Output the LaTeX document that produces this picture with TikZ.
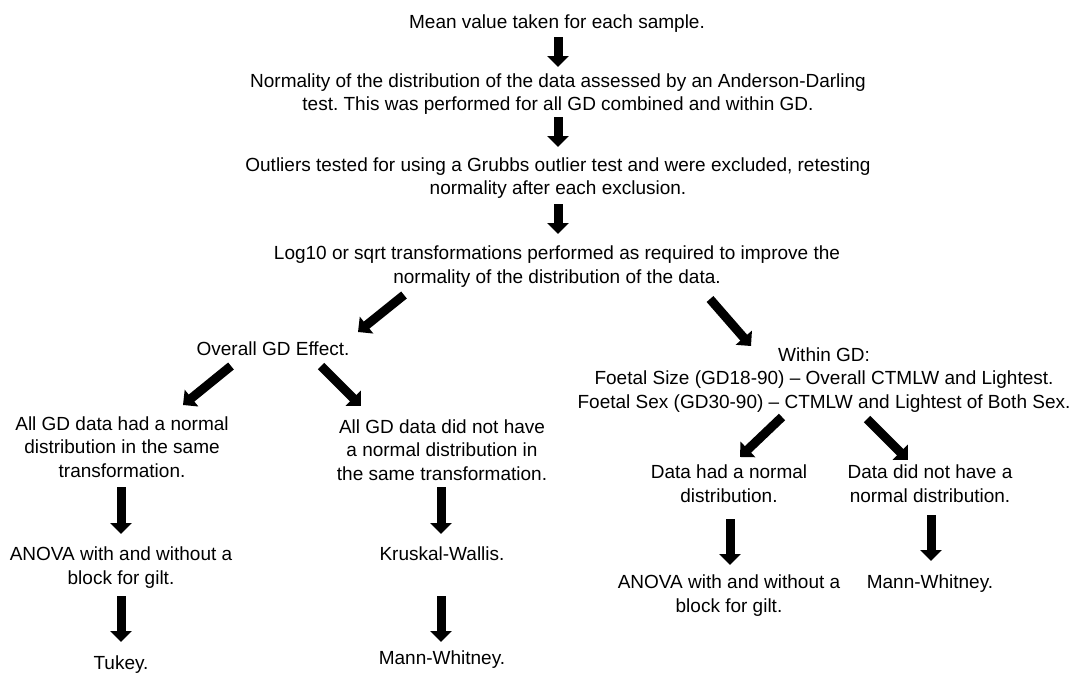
\documentclass[tikz,border=0pt]{standalone}
\usepackage{fontspec}
\setmainfont{Liberation Sans}
\usetikzlibrary{arrows.meta}
\frenchspacing
\begin{document}
\begin{tikzpicture}[x=1pt,y=-1pt,
  txt/.style={inner sep=0pt,align=center,font=\fontsize{19}{23.5}\selectfont},
  fat/.style={line width=9pt,-{Triangle[width=21pt,length=11pt]}}]
\useasboundingbox[fill=white] (0,0) rectangle (1081,672);
% text nodes
\node[txt] (mean) at (557,24) {Mean value taken for each sample.};
\node[txt] (norm) at (558,94) {Normality of the distribution of the data assessed by an Anderson-Darling\\test. This was performed for all GD combined and within GD.};
\node[txt] (outl) at (558,178) {Outliers tested for using a Grubbs outlier test and were excluded, retesting\\normality after each exclusion.};
\node[txt] (logt) at (557,266.5) {Log10 or sqrt transformations performed as required to improve the\\normality of the distribution of the data.};
\node[txt] (overall) at (273,349) {Overall GD Effect.};
\node[txt] (within) at (824,380) {Within GD:\\Foetal Size (GD18-90) – Overall CTMLW and Lightest.\\Foetal Sex (GD30-90) – CTMLW and Lightest of Both Sex.};
\node[txt] (lnorm) at (122,447) {All GD data had a normal\\distribution in the same\\transformation.};
\node[txt] (mnorm) at (442,450) {All GD data did not have\\a normal distribution in\\the same transformation.};
\node[txt] (lanova) at (121,567.5) {ANOVA with and without a\\block for gilt.};
\node[txt] (kruskal) at (442,554) {Kruskal-Wallis.};
\node[txt] (tukey) at (121,665) {Tukey.};
\node[txt] (mann1) at (442,660) {Mann-Whitney.};
\node[txt] (rnorm) at (729,483.5) {Data had a normal\\distribution.};
\node[txt] (rnot) at (930,483.5) {Data did not have a\\normal distribution.};
\node[txt] (ranova) at (729,595.5) {ANOVA with and without a\\block for gilt.};
\node[txt] (mann2) at (930,584) {Mann-Whitney.};
% arrow end points
\coordinate (a1s) at (558,37);  \coordinate (a1e) at (558,67);
\coordinate (a2s) at (558,117); \coordinate (a2e) at (558,147);
\coordinate (a3s) at (558,204); \coordinate (a3e) at (558,234);
\coordinate (a4s) at (404,295); \coordinate (a4e) at (358,332);
\coordinate (a5s) at (710,299); \coordinate (a5e) at (751,346);
\coordinate (a6s) at (231,366); \coordinate (a6e) at (183,405);
\coordinate (a7s) at (321,366); \coordinate (a7e) at (361,406);
\coordinate (a8s) at (121,487); \coordinate (a8e) at (121,534);
\coordinate (a9s) at (121,596); \coordinate (a9e) at (121,642);
\coordinate (a10s) at (441,487); \coordinate (a10e) at (441,534);
\coordinate (a11s) at (441,596); \coordinate (a11e) at (441,642);
\coordinate (a12s) at (782,417); \coordinate (a12e) at (740,457);
\coordinate (a13s) at (867,419); \coordinate (a13e) at (908,460);
\coordinate (a14s) at (730,519); \coordinate (a14e) at (730,565);
\coordinate (a15s) at (931,515); \coordinate (a15e) at (931,561);
% arrows
\draw[fat] (a1s) -- (a1e);
\draw[fat] (a2s) -- (a2e);
\draw[fat] (a3s) -- (a3e);
\draw[fat] (a4s) -- (a4e);
\draw[fat] (a5s) -- (a5e);
\draw[fat] (a6s) -- (a6e);
\draw[fat] (a7s) -- (a7e);
\draw[fat] (a8s) -- (a8e);
\draw[fat] (a9s) -- (a9e);
\draw[fat] (a10s) -- (a10e);
\draw[fat] (a11s) -- (a11e);
\draw[fat] (a12s) -- (a12e);
\draw[fat] (a13s) -- (a13e);
\draw[fat] (a14s) -- (a14e);
\draw[fat] (a15s) -- (a15e);
\end{tikzpicture}
\end{document}
